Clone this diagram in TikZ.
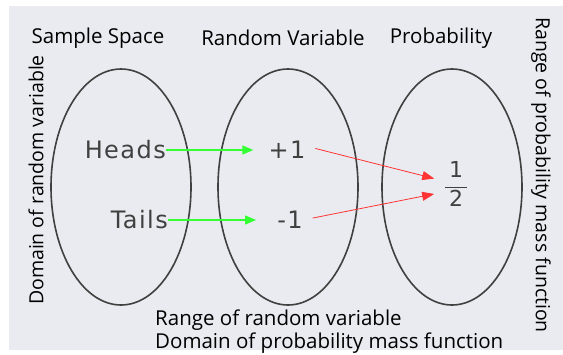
\documentclass[tikz,border=0pt]{standalone}
\usepackage{fontspec}
\setmainfont{Open Sans}
\newfontfamily\dejavu[LetterSpace=6]{DejaVu Sans}
\usetikzlibrary{shapes.geometric,arrows.meta}

\begin{document}
\begin{tikzpicture}[
                x=1pt, y=-1pt,
                setnode/.style = {ellipse, draw=black!75, line width=1.6pt, minimum width=140pt, minimum height=236pt, inner sep=0pt},
                titlenode/.style = {font=\fontsize{20.5}{22}\selectfont, inner sep=0pt},
                sidenode/.style = {font=\fontsize{19.5}{21}\selectfont, inner sep=0pt},
                elemnode/.style = {font=\dejavu\fontsize{24}{26}\selectfont, text=black!75, inner sep=0pt},
                maparrow/.style = {draw=green!80!white, line width=1.4pt, -{Triangle[length=11pt,width=9pt]}},
                pmfarrow/.style = {draw=red!80!white, line width=0.8pt, -{Triangle[length=12pt,width=9pt]}}
        ]
        \useasboundingbox (0,0) rectangle (563,354);
        \fill[fill={rgb,255:red,234;green,235;blue,240}] (9,6) rectangle (563,350);
        \node[setnode] (sample) at (121,187) {};
        \node[setnode] (random) at (288,187) {};
        \node[setnode] (prob) at (452,187) {};
        \node[titlenode] (samplelbl) at (98,38) {Sample Space};
        \node[titlenode] (randomlbl) at (283,38) {Random Variable};
        \node[titlenode] (problbl) at (441,38) {Probability};
        \node[elemnode, anchor=east] (heads) at (166,150) {Heads};
        \node[elemnode, anchor=east] (tails) at (168,220) {Tails};
        \node[elemnode] (plus) at (287,150) {+1};
        \node[elemnode] (minus) at (290,220) {-1};
        \node[elemnode, font=\dejavu\fontsize{22}{24}\selectfont] (half) at (456,184) {$\displaystyle\frac{\hbox{\,1\,}}{\hbox{\,2\,}}$};
        \draw[maparrow, shorten >=15pt] (heads.east) -- (plus.west);
        \draw[maparrow, shorten >=21pt] (tails.east) -- (minus.west);
        \draw[pmfarrow, shorten <=10pt, shorten >=10pt] ([yshift=4pt]plus.east) -- ([yshift=3pt]half.west);
        \draw[pmfarrow, shorten <=10pt, shorten >=10pt] (minus.east) -- ([yshift=-8pt]half.west);
        \node[titlenode, anchor=west] (rangerv) at (155,320) {Range of random variable};
        \node[titlenode, anchor=west] (domainpmf) at (155,343) {Domain of probability mass function};
        \node[sidenode, rotate=90] (domainrv) at (36,180) {Domain of random variable};
        \node[sidenode, rotate=-90] (rangepmf) at (541,175) {Range of probability mass function};
\end{tikzpicture}
\end{document}
